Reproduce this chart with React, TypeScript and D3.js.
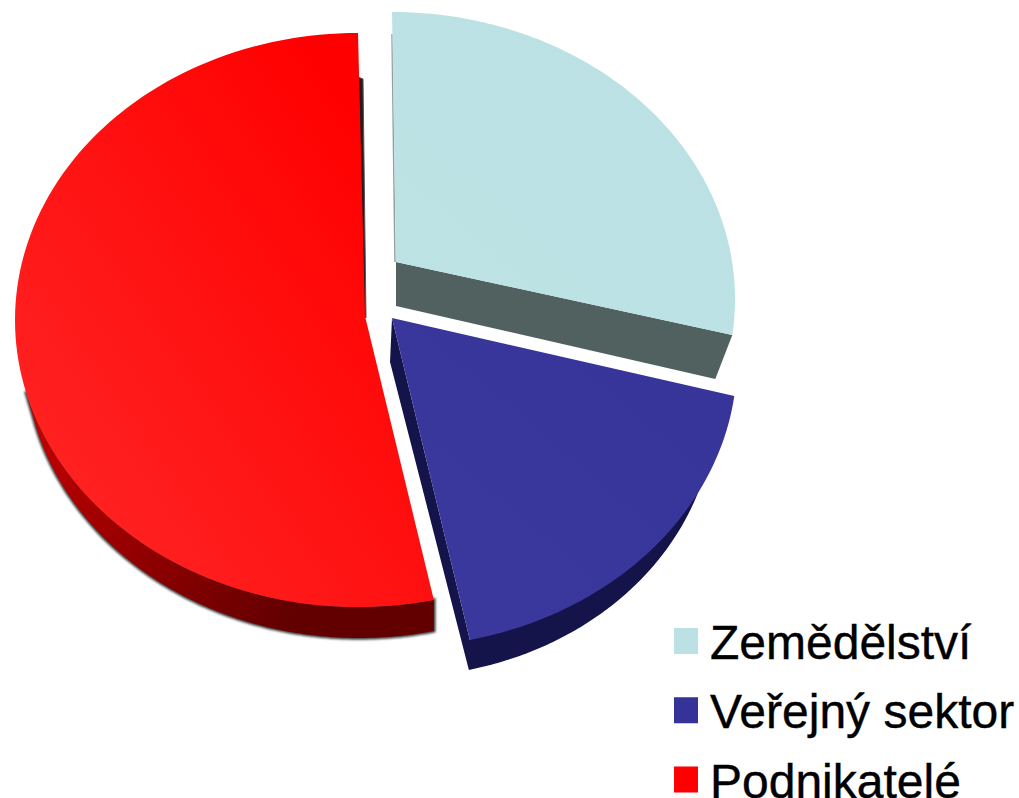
import React from "react";
import * as d3 from "d3";

const categories = ["Zemědělství", "Veřejný sektor", "Podnikatelé"];
const values = [27, 19.45, 53.55];
const faceColors = ["#bbe1e4", "#353298", "#ff0000"];
const faceLight = ["#bfe3e5", "#3a389c", "#ff2020"];
const wallColors = ["#516160", "#14144a", "#6c0000"];

const RX = 343, RY = 287;
// per-slice perspective placement: ellipse centre, apex, wall extrusion
const centers = [[392, 299], [394, 360], [358, 320]];
const apexes = [[396, 262], [392, 318], [365, 316]];

const pie = d3.pie<number>().sort(null)(values);
type Pt = [number, number];
const at = (c: number[], t: number, sx = 0, sy = 0): Pt => [
  c[0] + sx + RX * Math.sin(t),
  c[1] + sy - RY * Math.cos(t),
];
const arcPts = (c: number[], a: number, b: number, sx0 = 0, sx1 = 0, sy = 0): Pt[] =>
  d3.range(0, 121).map((i) => {
    const f = i / 120;
    return at(c, d3.interpolateNumber(a, b)(f), d3.interpolateNumber(sx0, sx1)(f), sy);
  });
const line = d3.line();

export default function App() {
  const faces = pie.map((p, i) => {
    const pts: Pt[] = [apexes[i] as Pt, ...arcPts(centers[i], p.startAngle, p.endAngle)];
    return line(pts)! + "Z";
  });
  const a = (i: number) => apexes[i];

  const lbEnd = at(centers[0], pie[0].endAngle);
  const lbWall = line([
    [a(0)[0], a(0)[1]],
    lbEnd,
    [lbEnd[0] - 17, lbEnd[1] + 44],
    [a(0)[0], a(0)[1] + 44],
  ] as Pt[])! + "Z";
  const lbTop = at(centers[0], pie[0].startAngle);

  const blueA = pie[1].startAngle;
  const blueB = pie[1].endAngle;
  const blueOuter = arcPts(centers[1], blueA, blueB, -20, -1, 30);
  const blueEnd = at(centers[1], blueB);
  const blueWall = line([
    [a(1)[0], a(1)[1]],
    [a(1)[0] - 2, a(1)[1] + 44],
    ...blueOuter.slice().reverse(),
    blueEnd,
  ] as Pt[])! + "Z";

  const redA = pie[2].startAngle;
  const redB = Math.PI * 1.42;
  const redWallPts: Pt[] = [
    ...arcPts(centers[2], redA, redB),
    ...arcPts(centers[2], redA, redB, 0, 9, 31).reverse(),
  ];
  const redWall = line(redWallPts)! + "Z";
  const redEnd = at(centers[2], pie[2].endAngle);
  const redStrip = line([
    [redEnd[0], redEnd[1] + 44],
    [redEnd[0] + 5, redEnd[1] + 46],
    [a(2)[0] + 1, a(2)[1] + 2],
    [a(2)[0] - 1, a(2)[1]],
  ] as Pt[])! + "Z";

  const legY = d3.scalePoint<string>().domain(categories).range([641, 779.5]);

  return (
    <svg width={1019} height={798} style={{ position: "absolute", left: 0, top: 0, background: "#fff" }}>
      <defs>
        <filter id="soft" x="-10%" y="-10%" width="120%" height="120%">
          <feGaussianBlur stdDeviation="1" />
        </filter>
        {categories.map((_, i) => (
          <linearGradient key={i} id={`g${i}`} gradientUnits="userSpaceOnUse"
            x1={i === 2 ? 40 : 392} y1={i === 2 ? 420 : 500} x2={i === 2 ? 400 : 735} y2={i === 2 ? 170 : 100}>
            <stop offset="0" stopColor={faceLight[i]} />
            <stop offset="1" stopColor={faceColors[i]} />
          </linearGradient>
        ))}
        <linearGradient id="redWall" gradientUnits="userSpaceOnUse" x1={40} y1={430} x2={290} y2={620}>
          <stop offset="0" stopColor="#c00000" />
          <stop offset="1" stopColor="#620000" />
        </linearGradient>
      </defs>
      <path d={redWall} fill="#222" stroke="#222" strokeWidth={3.5} opacity={0.85} filter="url(#soft)" />
      <path d={redWall} fill="url(#redWall)" />
      <path d={redStrip} fill="#2a1a1a" stroke="#555" strokeWidth={1} />
      <path d={faces[2]} fill="url(#g2)" />
      <path d={lbWall} fill={wallColors[0]} />
      <line x1={lbTop[0]} y1={lbTop[1] + 22} x2={a(0)[0] - 1} y2={a(0)[1]} stroke={wallColors[0]} strokeWidth={1.5} opacity={0.6} />
      <path d={faces[0]} fill="url(#g0)" />
      <path d={blueWall} fill={wallColors[1]} />
      <path d={faces[1]} fill="url(#g1)" />
      {categories.map((c, i) => (
        <g key={c} transform={`translate(674,${legY(c)})`}>
          <rect x={0} y={-13} width={24} height={26} fill={faceColors[i]} />
          <text x={36} y={18} fontFamily="'Liberation Sans', Arial, sans-serif" fontSize={48} fill="#000" stroke="#000" strokeWidth={0.4}>{c}</text>
        </g>
      ))}
    </svg>
  );
}
